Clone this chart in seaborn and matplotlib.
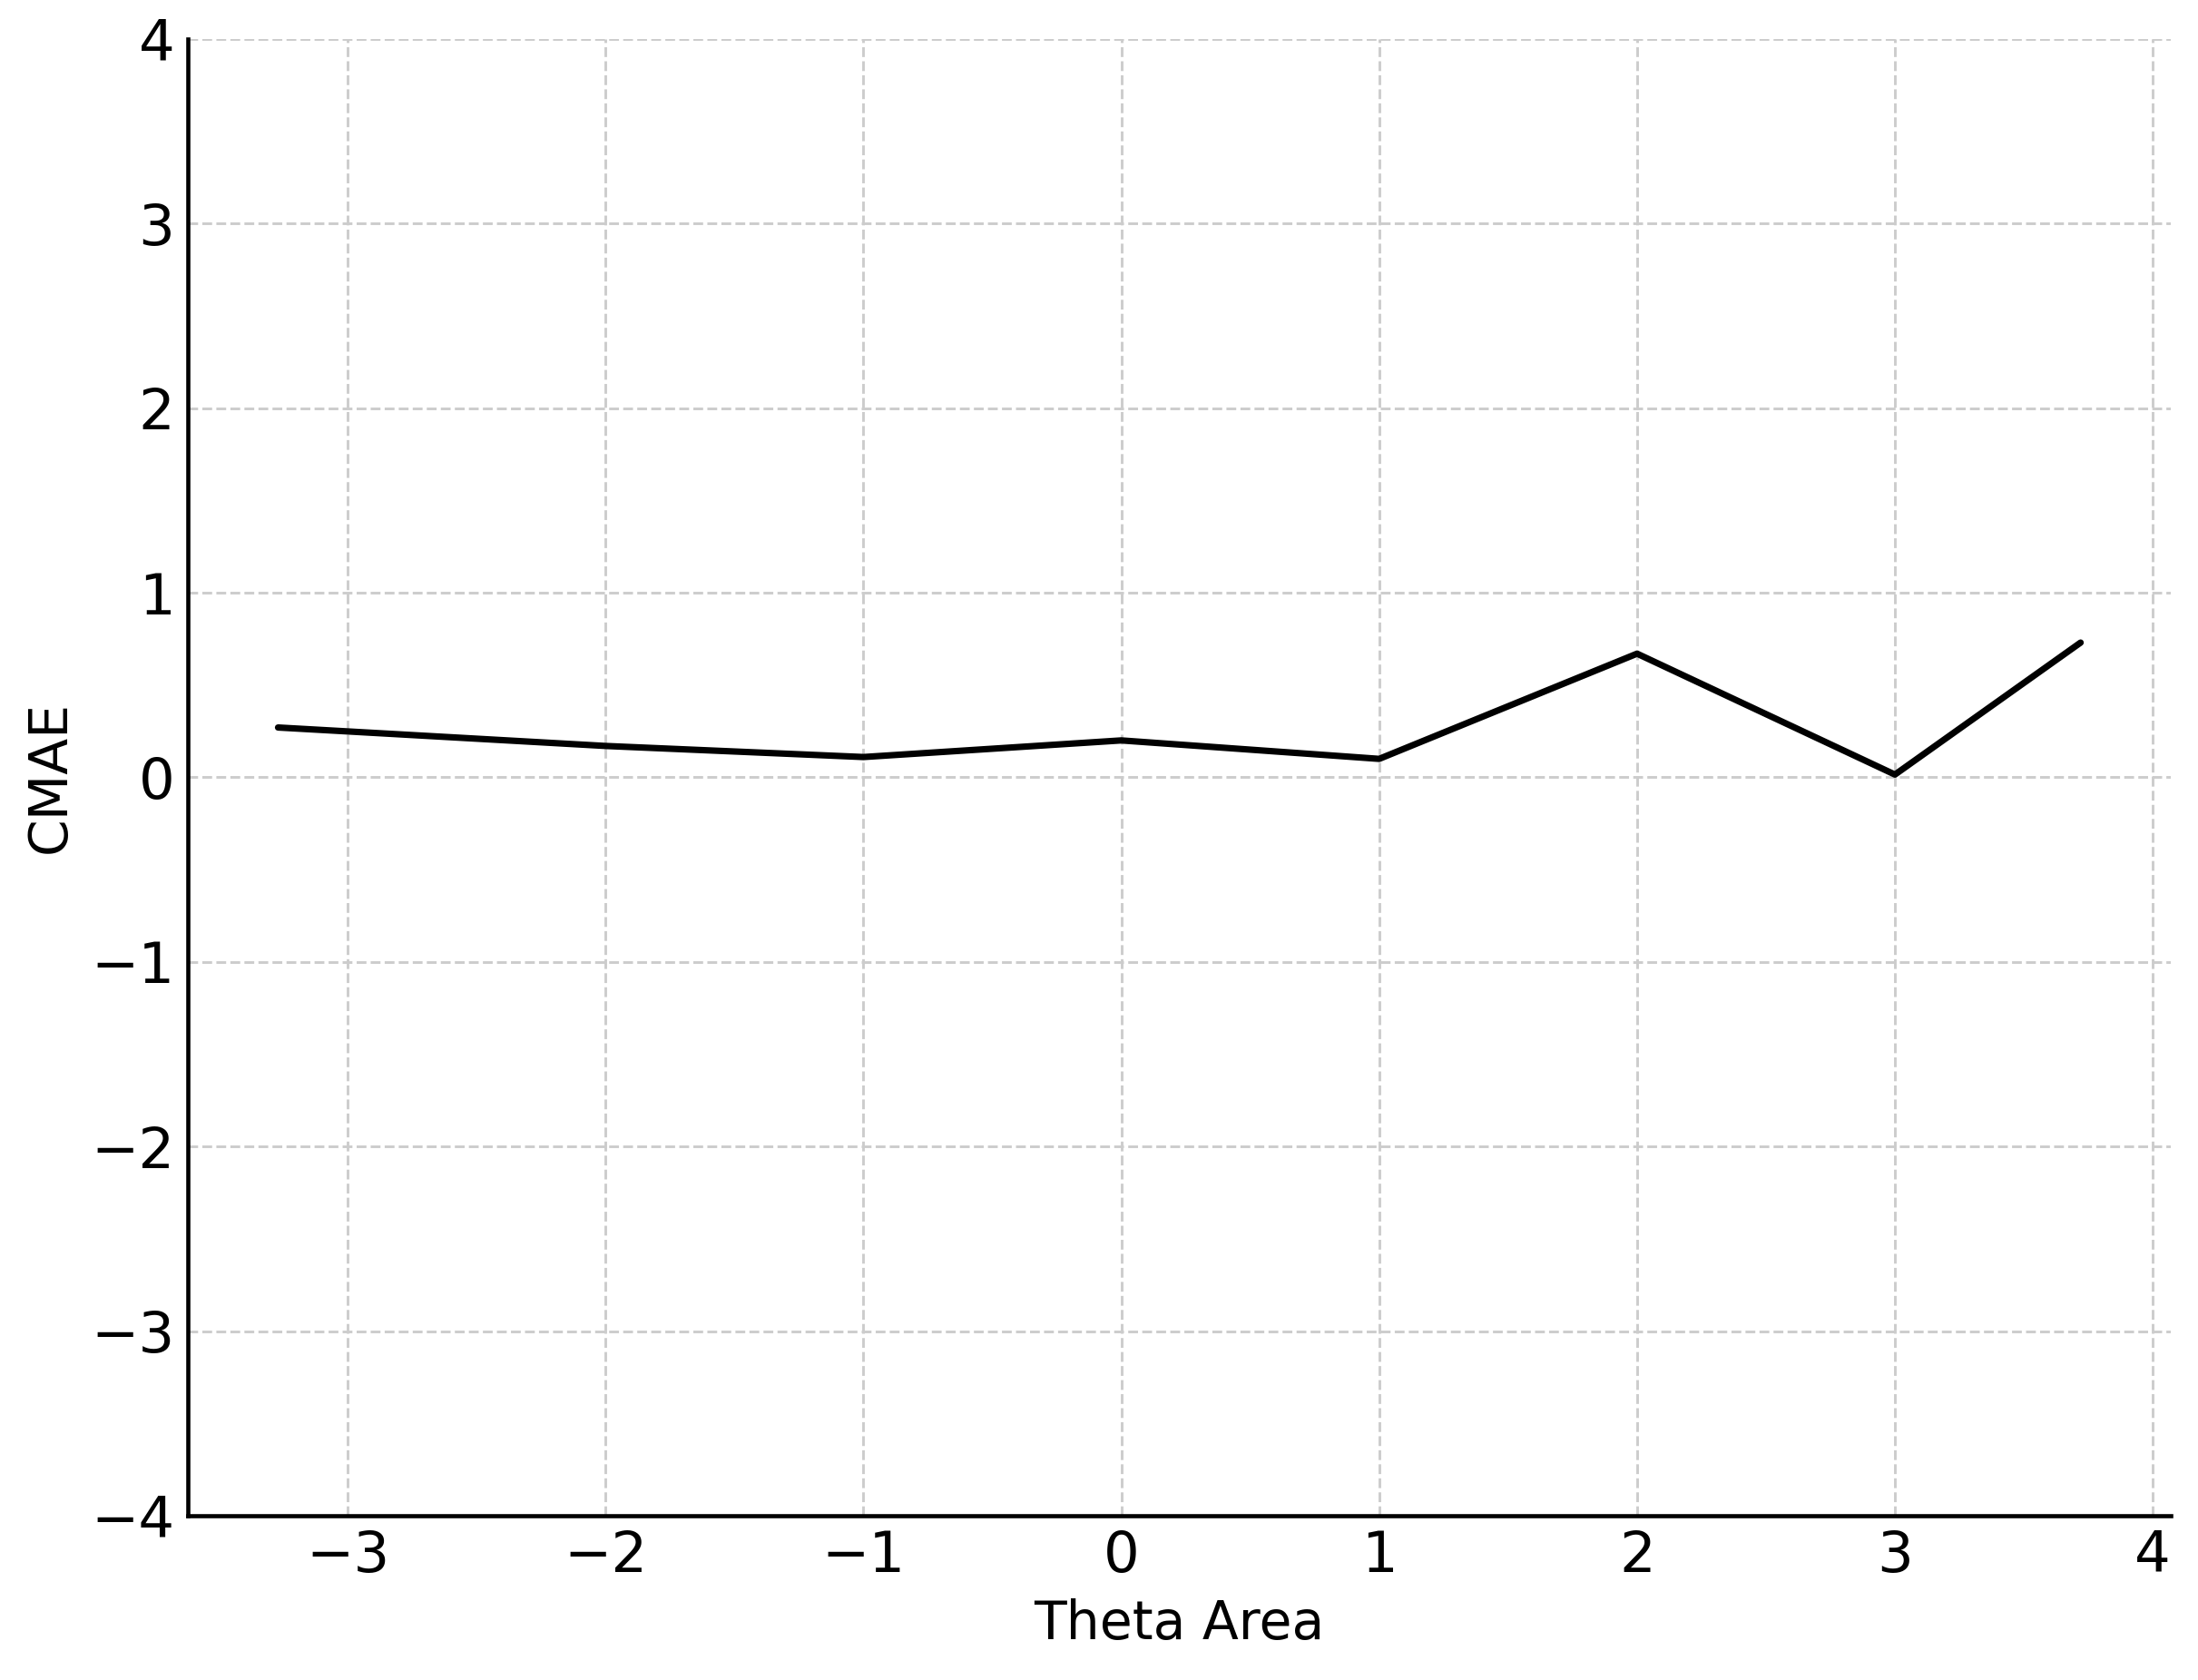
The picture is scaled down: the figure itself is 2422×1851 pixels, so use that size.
# line chart of CMAE against theta area
import pandas as pd
import matplotlib
matplotlib.use("Agg")
import matplotlib.pyplot as plt
import seaborn as sns

# values
theta_area = [-3.27, -2, -1, 0, 1, 2, 3, 3.72]
cmae = [0.27, 0.17, 0.11, 0.20, 0.10, 0.67, 0.015, 0.73]
y_ticks = [-4, -3, -2, -1, 0, 1, 2, 3, 4]
x_ticks = [-3, -2, -1, 0, 1, 2, 3, 4]

df = pd.DataFrame({"Theta Area": theta_area, "CMAE": cmae})

sns.set_style("white")
plt.rcParams["font.family"] = ["DejaVu Sans"]

fig, ax = plt.subplots(figsize=(2422 / 300, 1851 / 300), dpi=300)
fig.subplots_adjust(left=0.0855, right=0.9876, bottom=0.0978, top=0.9768)

sns.lineplot(data=df, x="Theta Area", y="CMAE", color="black", linewidth=1.7, ax=ax)

ax.set_ylim(-4, 4)
ax.set_yticks(y_ticks)
ax.set_xticks(x_ticks)
# light dashed grid behind the line
ax.grid(True, linestyle="--", color="#cccccc", linewidth=0.7)
ax.set_axisbelow(True)
sns.despine(ax=ax)
for side in ["left", "bottom"]:
    ax.spines[side].set_color("black")
    ax.spines[side].set_linewidth(1.1)
ax.tick_params(direction="in", length=4, width=0.8, labelsize=15, colors="black")
ax.set_xlabel("Theta Area", fontsize=14, color="black")
ax.set_ylabel("CMAE", fontsize=14, color="black")

fig.savefig("out.png", dpi=300)
